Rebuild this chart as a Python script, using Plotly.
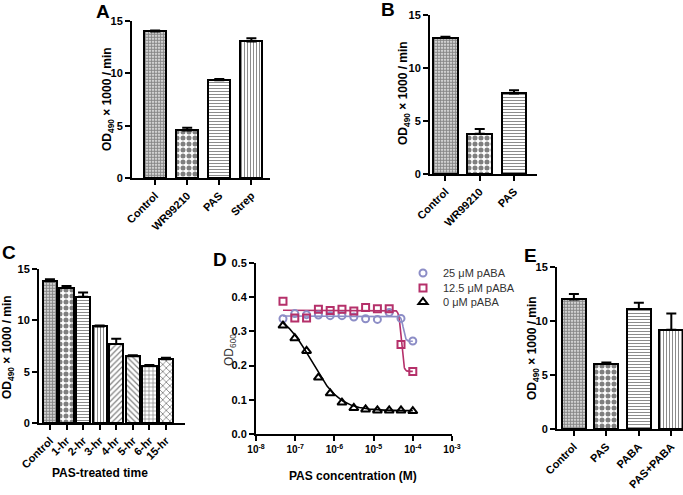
import numpy as np
import plotly.graph_objects as go

W, H = 683, 495
FONT = "Arial, Liberation Sans, sans-serif"

# ---------------- data ----------------
a_cats = ["Control", "WR99210", "PAS", "Strep"]
a_vals = [14.0, 4.55, 9.35, 13.05]
a_errs = [0.1, 0.25, 0.1, 0.3]
a_pats = ["ctrl", "check", "hline", "vline"]

b_cats = ["Control", "WR99210", "PAS"]
b_vals = [12.85, 3.8, 7.6]
b_errs = [0.1, 0.45, 0.3]
b_pats = ["ctrl", "check", "hline"]

c_cats = ["Control", "1-hr", "2-hr", "3-hr", "4-hr", "5-hr", "6-hr", "15-hr"]
c_vals = [13.8, 13.15, 12.3, 9.4, 7.7, 6.5, 5.55, 6.2]
c_errs = [0.2, 0.2, 0.4, 0.1, 0.5, 0.1, 0.1, 0.15]
c_pats = ["ctrl", "check", "hline", "vline", "fdiag", "bdiag", "grid", "xhatch"]

e_cats = ["Control", "PAS", "PABA", "PAS+PABA"]
e_vals = [12.0, 6.05, 11.1, 9.2]
e_errs = [0.5, 0.1, 0.6, 1.5]
e_pats = ["ctrl", "check", "hline", "vline"]

d_conc = [4.88e-8, 9.77e-8, 1.95e-7, 3.91e-7, 7.81e-7, 1.56e-6,
          3.13e-6, 6.25e-6, 1.25e-5, 2.5e-5, 5e-5, 1e-4]
d_25 = [0.337, 0.352, 0.349, 0.348, 0.346, 0.346, 0.342, 0.337, 0.335, 0.355, 0.338, 0.272]
d_125 = [0.388, 0.339, 0.339, 0.365, 0.361, 0.365, 0.360, 0.370, 0.366, 0.366, 0.262, 0.183]
d_0 = [0.317, 0.280, 0.243, 0.165, 0.119, 0.092, 0.076, 0.072, 0.069, 0.069, 0.069, 0.067]
d_x_ticks = [1e-8, 1e-7, 1e-6, 1e-5, 1e-4, 1e-3]
d_x_ticktext = ["10<sup>-8</sup>", "10<sup>-7</sup>", "10<sup>-6</sup>",
                "10<sup>-5</sup>", "10<sup>-4</sup>", "10<sup>-3</sup>"]
# fitted dose-response parameters (top, bottom, logEC50, hill)
fit_25 = (0.345, 0.271, -4.24, 15)
fit_125 = (0.362, 0.183, -4.295, 15)
fit_0 = (0.36, 0.068, -6.59, 1.2)

COL_25 = "#8C8DC6"
COL_125 = "#B5306A"
COL_0 = "#000000"

PATTERNS = {
    "ctrl": dict(shape=".", size=3, solidity=0.7, fg="#111111"),
    "check": dict(shape=".", size=6, solidity=0.55, fg="#000000"),
    "hline": dict(shape="-", size=3, solidity=0.3, fg="#000000"),
    "vline": dict(shape="|", size=3, solidity=0.3, fg="#000000"),
    "fdiag": dict(shape="/", size=4, solidity=0.3, fg="#000000"),
    "bdiag": dict(shape="\\", size=4, solidity=0.3, fg="#000000"),
    "grid": dict(shape="+", size=4, solidity=0.3, fg="#000000"),
    "xhatch": dict(shape="x", size=5, solidity=0.3, fg="#000000"),
}


def px_x(p):
    return p / W


def px_y(p):
    return 1 - p / H


def bar_trace(cats, vals, errs, pats, xa, ya, width):
    return go.Bar(
        x=cats, y=vals, xaxis=xa, yaxis=ya, width=width, showlegend=False,
        marker=dict(
            color="white",
            line=dict(color="black", width=2),
            pattern=dict(
                shape=[PATTERNS[p]["shape"] for p in pats],
                size=[PATTERNS[p]["size"] for p in pats],
                solidity=[PATTERNS[p]["solidity"] for p in pats],
                fgcolor=[PATTERNS[p]["fg"] for p in pats],
                bgcolor="white",
                fillmode="overlay",
            ),
        ),
        error_y=dict(type="data", symmetric=False, array=errs,
                     arrayminus=[0] * len(errs), color="black",
                     thickness=2, width=5),
    )


def fit_curve(params, xs):
    top, bot, lec, h = params
    return bot + (top - bot) / (1 + 10 ** ((np.log10(xs) - lec) * h))


fig = go.Figure()
fig.add_trace(bar_trace(a_cats, a_vals, a_errs, a_pats, "x", "y", 0.69))
fig.add_trace(bar_trace(b_cats, b_vals, b_errs, b_pats, "x2", "y2", 0.72))
fig.add_trace(bar_trace(c_cats, c_vals, c_errs, c_pats, "x3", "y3", 0.86))
fig.add_trace(bar_trace(e_cats, e_vals, e_errs, e_pats, "x5", "y5", 0.74))

# panel D: fitted curves
xs = np.logspace(np.log10(d_conc[0]), np.log10(d_conc[-1]), 400)
for params, col in [(fit_25, COL_25), (fit_125, COL_125), (fit_0, COL_0)]:
    fig.add_trace(go.Scatter(x=xs, y=fit_curve(params, xs), mode="lines",
                             line=dict(color=col, width=1.6),
                             xaxis="x4", yaxis="y4", showlegend=False,
                             hoverinfo="skip"))
# panel D: points
for vals, col, sym, name, lg in [
    (d_25, COL_25, "circle-open", "25 μM pABA", "legend"),
    (d_125, COL_125, "square-open", "12.5 μM pABA", "legend2"),
    (d_0, COL_0, "triangle-up-open", "0 μM pABA", "legend3"),
]:
    fig.add_trace(go.Scatter(x=d_conc, y=vals, mode="markers", name=name,
                             marker=dict(symbol=sym, size=7 if sym != "triangle-up-open" else 8,
                                         color=col, line=dict(color=col, width=2)),
                             xaxis="x4", yaxis="y4", legend=lg))

tickfont = dict(family=FONT, size=11, color="black", weight="bold")
axline = dict(showline=True, linecolor="black", linewidth=2, ticks="outside",
              ticklen=5, tickwidth=2, tickcolor="black", showgrid=False,
              zeroline=False, tickfont=tickfont, automargin=False)


def cat_x(dom, rng, anchor):
    return dict(domain=dom, range=rng, anchor=anchor, type="category",
                tickangle=-45, **axline)


def val_y(dom, anchor, rng=(0, 15), dtick=5):
    return dict(domain=dom, range=list(rng), anchor=anchor, dtick=dtick, **axline)


fig.update_layout(
    width=W, height=H, margin=dict(l=0, r=0, t=0, b=0, autoexpand=False),
    paper_bgcolor="white", plot_bgcolor="white", bargap=0,
    xaxis=cat_x([px_x(132), px_x(270)], [-0.72, 3.58], "y"),
    yaxis=val_y([px_y(178), px_y(21)], "x"),
    xaxis2=cat_x([px_x(430), px_x(537)], [-0.45, 2.67], "y2"),
    yaxis2=val_y([px_y(174), px_y(15)], "x2"),
    xaxis3=cat_x([px_x(39), px_x(185)], [-0.66, 8.15], "y3"),
    yaxis3=val_y([px_y(423), px_y(269)], "x3"),
    xaxis4=dict(domain=[px_x(256), px_x(452)], range=[-8, -3], type="log",
                anchor="y4", tickvals=d_x_ticks, ticktext=d_x_ticktext,
                **{**axline, "tickfont": dict(family=FONT, size=10, color="black", weight="bold")}),
    yaxis4=dict(domain=[px_y(434), px_y(263)], range=[0, 0.5], dtick=0.1,
                tickformat=".1f", anchor="x4", **axline),
    xaxis5=cat_x([px_x(557), 1.0], [-0.52, 3.36], "y5"),
    yaxis5=val_y([px_y(429), px_y(267)], "x5"),
)

leg_common = dict(xanchor="left", yanchor="middle", bgcolor="rgba(0,0,0,0)",
                  font=dict(family=FONT, size=11, color="#333333"),
                  itemwidth=30, borderwidth=0)
fig.update_layout(
    legend=dict(x=px_x(403), y=px_y(273), **leg_common),
    legend2=dict(x=px_x(403), y=px_y(288), **leg_common),
    legend3=dict(x=px_x(403), y=px_y(302), **leg_common),
)

ann = []
# panel letters
for t, x, y in [("A", 103, 11), ("B", 388, 9), ("C", 9, 253), ("D", 220, 259), ("E", 530, 255)]:
    ann.append(dict(text=f"<b>{t}</b>", x=px_x(x), y=px_y(y), xref="paper", yref="paper",
                    showarrow=False, xanchor="center", yanchor="middle",
                    font=dict(family=FONT, size=19, color="black")))
ytitle = "<b>OD<sub>490</sub> × 1000 / min</b>"
for x, y in [(108, 99), (404, 93), (8, 347), (533, 348)]:
    ann.append(dict(text=ytitle, x=px_x(x), y=px_y(y), xref="paper", yref="paper",
                    showarrow=False, textangle=-90, xanchor="center", yanchor="middle",
                    font=dict(family=FONT, size=12, color="black")))
ann.append(dict(text="OD<sub>600</sub>", x=px_x(230), y=px_y(350), xref="paper", yref="paper",
                showarrow=False, textangle=-90, xanchor="center", yanchor="middle",
                font=dict(family=FONT, size=12, color="#333333")))
ann.append(dict(text="<b>PAS-treated time</b>", x=px_x(100), y=px_y(473), xref="paper",
                yref="paper", showarrow=False, xanchor="center", yanchor="middle",
                font=dict(family=FONT, size=12, color="black")))
ann.append(dict(text="<b>PAS concentration (M)</b>", x=px_x(353), y=px_y(476), xref="paper",
                yref="paper", showarrow=False, xanchor="center", yanchor="middle",
                font=dict(family=FONT, size=12, color="black")))
fig.update_layout(annotations=ann)

fig.write_html("out.html", config={"displayModeBar": False},
               post_script="document.body.style.margin='0';document.body.style.overflow='hidden';")
